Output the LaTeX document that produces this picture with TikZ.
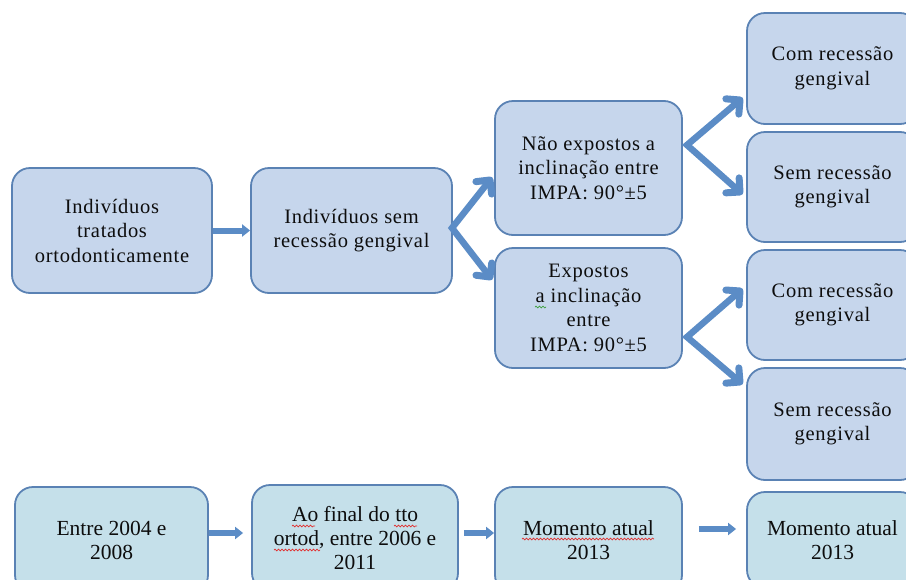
\documentclass[tikz,border=0pt]{standalone}
\usepackage{fontspec}
\setmainfont{Liberation Serif}
\newfontfamily\upfont{Liberation Serif}[LetterSpace=3.5]
\usetikzlibrary{arrows.meta,decorations.pathmorphing,decorations.markings}
\definecolor{boxfill}{HTML}{C6D6EC}
\definecolor{boxline}{HTML}{5A82B4}
\definecolor{lowfill}{HTML}{C5E0EA}
\definecolor{arrowblue}{HTML}{5B8CC6}
\definecolor{wavered}{HTML}{E03030}
\definecolor{wavegreen}{HTML}{40A040}
\begin{document}
\begin{tikzpicture}[x=1pt,y=-1pt,
  box/.style={draw=boxline,line width=1.8pt,fill=boxfill,rounded corners=18pt,
    align=center,inner sep=0pt,text=black!95,font=\upfont\fontsize{20.5}{24.5}\selectfont},
  lowbox/.style={box,fill=lowfill,font=\rmfamily\fontsize{21.5}{24}\selectfont},
  chev/.style={draw=arrowblue,line width=7pt,line cap=round,line join=round},
  fork/.style={draw=arrowblue,line width=6.5pt,line join=miter,
    postaction={decorate,decoration={markings,
      mark=at position 0 with {\draw[chev] (10pt,-10pt) -- (0pt,0pt) -- (10pt,10pt);},
      mark=at position 1 with {\draw[chev] (-10pt,-10pt) -- (0pt,0pt) -- (-10pt,10pt);}}}},
  sarrow/.style={draw=arrowblue,line width=6pt,-{Triangle[length=8pt,width=12pt]}},
  wave/.style={line width=0.7pt,decorate,decoration={snake,amplitude=0.9pt,segment length=3.5pt}}]
\useasboundingbox (0,0) rectangle (906,579);
\clip (0,0) rectangle (906,579);

% upper row
\node[box,minimum width=200,minimum height=125] (A) at (112,230.5) {Indivíduos\\tratados\\ortodonticamente};
\node[box,minimum width=201,minimum height=125] (B) at (351.5,230.5) {Indivíduos sem\\recessão gengival};
\node[box,minimum width=187,minimum height=134] (C) at (588.5,168) {Não expostos a\\inclinação entre\\IMPA: 90°±5};
\node[box,minimum width=187,minimum height=120] (D) at (588.5,308) {Expostos\\a inclinação\\entre\\IMPA: 90°±5};
\node[box,minimum width=171,minimum height=111] (E1) at (832.5,68.5) {Com recessão\\gengival};
\node[box,minimum width=171,minimum height=110] (E2) at (832.5,187) {Sem recessão\\gengival};
\node[box,minimum width=171,minimum height=110] (E3) at (832.5,305) {Com recessão\\gengival};
\node[box,minimum width=171,minimum height=112] (E4) at (832.5,424) {Sem recessão\\gengival};

% lower row
\node[lowbox,minimum width=193,minimum height=106] (F1) at (111.5,540) {Entre 2004 e\\2008};
\node[lowbox,minimum width=206,minimum height=106] (F2) at (355,538) {Ao final do tto\\ortod, entre 2006 e\\2011};
\node[lowbox,minimum width=187,minimum height=106] (F3) at (588.5,540) {Momento atual\\2013};
\node[lowbox,minimum width=171,minimum height=96] (F4) at (832.5,540) {Momento atual\\2013};

% spell-check marks
\draw[wave,wavegreen] (535,307) -- (546,307);
\draw[wave,wavered] (292,526) -- (315,526);
\draw[wave,wavered] (394,526) -- (417,526);
\draw[wave,wavered] (274,550) -- (320,550);
\draw[wave,wavered] (522,539) -- (654,539);

% fork coordinates
\coordinate (bv) at (452,228);
\coordinate (bt1) at (490,180);
\coordinate (bt2) at (490,277);
\coordinate (cv) at (687,145);
\coordinate (ct1) at (740,100);
\coordinate (ct2) at (740,192);
\coordinate (dv) at (687,337);
\coordinate (dt1) at (740,291);
\coordinate (dt2) at (740,382);

\draw[fork] (bt1) -- (bv) -- (bt2);
\draw[fork] (ct1) -- (cv) -- (ct2);
\draw[fork] (dt1) -- (dv) -- (dt2);

\draw[sarrow] (A.east) -- (B.west);
\draw[sarrow,shorten >=8pt] ([yshift=7]F1.east) -- ([yshift=5]F2.west);
\draw[sarrow,shorten <=5pt] ([yshift=5]F2.east) -- ([yshift=7]F3.west);
\draw[sarrow,shorten <=16pt,shorten >=10pt] ([yshift=11]F3.east) -- ([yshift=11]F4.west);
\end{tikzpicture}
\end{document}
